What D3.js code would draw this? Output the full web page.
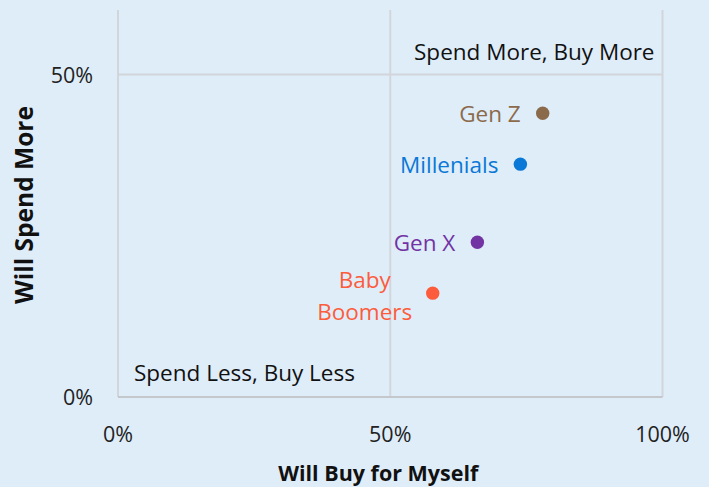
<!DOCTYPE html>
<html>
<head>
<meta charset="utf-8">
<script src="https://cdn.jsdelivr.net/npm/d3@7"></script>
<style>
  body { margin: 0; background: #dfedf9; }
  text { font-family: "Open Sans", "Noto Sans", sans-serif; }
</style>
</head>
<body>
<div id="root"></div>
<script>
const width = 709
const height = 487

// data
const groups = ['Gen Z', 'Millenials', 'Gen X', 'Baby Boomers']
const buyForMyself = [0.78, 0.739, 0.66, 0.578]
const spendMore = [0.44, 0.361, 0.24, 0.161]
const colors = ['#8b6a4b', '#0a78d6', '#7233a3', '#fc5c3c']
const xTicks = [0, 0.5, 1]
const yTicks = [0, 0.5]

const margin = { top: 10, right: 46, bottom: 90, left: 118 }

const svg = d3.select('#root').append('svg')
  .attr('width', width)
  .attr('height', height)

svg.append('rect').attr('width', width).attr('height', height).attr('fill', '#dfedf9')

const x = d3.scaleLinear().domain([0, 1]).range([margin.left, width - margin.right - 0.5])
const y = d3.scaleLinear().domain([0, 0.6]).range([height - margin.bottom, margin.top])

const fmt = d3.format('.0%')
const grid = '#d2d6da'

// vertical gridlines
svg.selectAll('.vgrid')
  .data(xTicks)
  .enter().append('line')
    .attr('x1', d => x(d)).attr('x2', d => x(d))
    .attr('y1', y(0.6)).attr('y2', y(0))
    .attr('stroke', grid).attr('stroke-width', 2)

// horizontal gridlines
svg.selectAll('.hgrid')
  .data(yTicks)
  .enter().append('line')
    .attr('x1', x(0)).attr('x2', x(1))
    .attr('y1', d => y(d)).attr('y2', d => y(d))
    .attr('stroke', d => d === 0 ? '#c4c8cc' : grid).attr('stroke-width', 2)

// tick labels
svg.selectAll('.xtick')
  .data(xTicks)
  .enter().append('text')
    .attr('x', d => x(d))
    .attr('y', y(0) + 45)
    .attr('text-anchor', 'middle')
    .attr('font-size', 21.5)
    .attr('fill', '#222')
    .text(fmt)

svg.selectAll('.ytick')
  .data(yTicks)
  .enter().append('text')
    .attr('x', x(0) - 25)
    .attr('y', d => y(d) + 8)
    .attr('text-anchor', 'end')
    .attr('font-size', 21.5)
    .attr('fill', '#222')
    .text(fmt)

// axis titles
svg.append('text')
  .attr('x', x(0.5) - 12)
  .attr('y', 481)
  .attr('text-anchor', 'middle')
  .attr('font-size', 21.5)
  .attr('font-weight', 'bold')
  .attr('fill', '#111')
  .text('Will Buy for Myself')

svg.append('text')
  .attr('transform', `translate(33, 205) rotate(-90)`)
  .attr('text-anchor', 'middle')
  .attr('font-size', 24.5)
  .attr('font-weight', 'bold')
  .attr('fill', '#111')
  .text('Will Spend More')

// quadrant labels
svg.append('text')
  .attr('x', x(1) - 8).attr('y', 60)
  .attr('text-anchor', 'end')
  .attr('font-size', 22.5)
  .attr('fill', '#111')
  .text('Spend More, Buy More')

svg.append('text')
  .attr('x', x(0) + 16).attr('y', 381)
  .attr('font-size', 22.5)
  .attr('fill', '#111')
  .text('Spend Less, Buy Less')

// points
const pts = groups.map((g, i) => ({ g, bx: buyForMyself[i], sy: spendMore[i], c: colors[i] }))

svg.selectAll('circle')
  .data(pts)
  .enter().append('circle')
    .attr('cx', d => x(d.bx))
    .attr('cy', d => y(d.sy))
    .attr('r', 6.7)
    .attr('fill', d => d.c)

// labels
pts.forEach(d => {
  const words = d.g === 'Baby Boomers' ? ['Baby', 'Boomers'] : [d.g]
  const t = svg.append('text')
    .attr('font-size', 22.5)
    .attr('fill', d.c)
  if (words.length === 1) {
    t.attr('x', x(d.bx) - 22).attr('y', y(d.sy) + 9)
      .attr('text-anchor', 'end').text(d.g)
  } else {
    t.attr('text-anchor', 'middle')
    t.append('tspan').attr('x', x(d.bx) - 68).attr('y', y(d.sy) - 5).text(words[0])
    t.append('tspan').attr('x', x(d.bx) - 68).attr('y', y(d.sy) + 27).text(words[1])
  }
})
</script>
</body>
</html>
